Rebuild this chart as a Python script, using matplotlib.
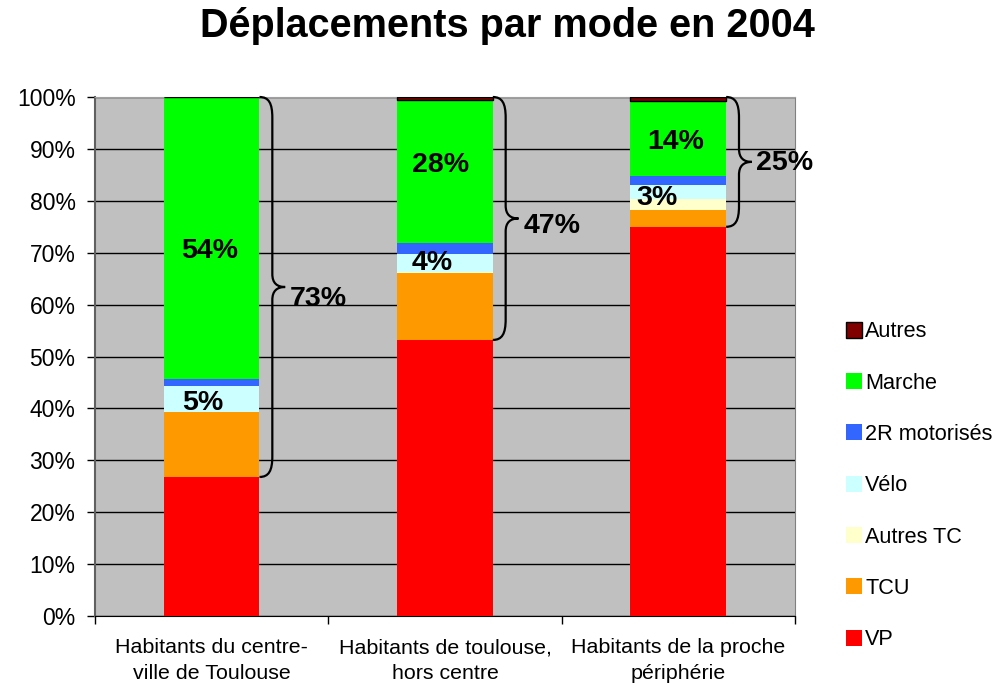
import numpy as np
import matplotlib
matplotlib.use('Agg')
import matplotlib.pyplot as plt
from matplotlib.path import Path
from matplotlib.patches import PathPatch

plt.rcParams['font.family'] = ['Liberation Sans', 'DejaVu Sans']

# Données (parts en %)
categories = ['Habitants du centre-\nville de Toulouse',
              'Habitants de toulouse,\nhors centre',
              'Habitants de la proche\npériphérie']
modes = ['VP', 'TCU', 'Autres TC', 'Vélo', '2R motorisés', 'Marche', 'Autres']
vp = [26.8, 53.2, 75.0]
tcu = [12.5, 12.8, 3.2]
autres_tc = [0.0, 0.2, 2.1]
velo = [5.0, 3.5, 2.7]
deux_roues = [1.4, 2.2, 1.8]
marche = [54.3, 27.6, 14.4]
autres = [0.0, 0.5, 0.8]
colors = ['#FF0000', '#FF9900', '#FFFFCC', '#CCFFFF', '#3366FF', '#00FF00', '#800000']

# Étiquettes sur les barres
bar_labels = ['54%', '5%', '28%', '4%', '14%', '3%']
bar_label_cat = [0, 0, 1, 1, 2, 2]
bar_label_pos = [(-0.01, 70.4), (-0.04, 41.0), (-0.02, 86.9), (-0.055, 68.0),
                 (-0.01, 91.3), (-0.09, 80.5)]
brace_labels = ['73%', '47%', '25%']

series = [vp, tcu, autres_tc, velo, deux_roues, marche, autres]

fig = plt.figure(figsize=(10.01, 6.93), dpi=100)
ax = fig.add_axes([0.0949, 0.111, 0.6993, 0.749])
ax.set_facecolor('#C0C0C0')

x = np.arange(len(categories)) + 0.5
width = 0.41
bottom = np.zeros(len(categories))
handles = []
for name, vals, col in zip(modes, series, colors):
    if name == 'Autres':
        h = ax.bar(x, vals, width, bottom=bottom, color=col, edgecolor='black',
                   linewidth=1, label=name, zorder=3)
    else:
        h = ax.bar(x, vals, width, bottom=bottom, color=col, linewidth=0,
                   label=name, zorder=3)
    handles.append(h)
    bottom += np.array(vals)

# Étiquettes des segments
for lab, ci, (dx, yy) in zip(bar_labels, bar_label_cat, bar_label_pos):
    ax.text(x[ci] + dx, yy, lab, ha='center', va='center', fontsize=20.5,
            fontweight='bold', zorder=5)

# Accolades : de la part VP jusqu'à 100 %
def brace(ax, x0, y0, y1):
    xv = x0 + 0.055
    xt = x0 + 0.11
    mid = (y0 + y1) / 2
    r = min(4.0, (y1 - y0) / 6)
    m = 2.5
    verts = [
        (x0, y1), (x0 + 0.04, y1), (xv, y1 - r * 0.3), (xv, y1 - r),
        (xv, mid + m),
        (xv, mid + m * 0.3), (xv + 0.02, mid), (xt, mid),
        (xv + 0.02, mid), (xv, mid - m * 0.3), (xv, mid - m),
        (xv, y0 + r),
        (xv, y0 + r * 0.3), (x0 + 0.04, y0), (x0, y0),
    ]
    codes = [Path.MOVETO, Path.CURVE4, Path.CURVE4, Path.CURVE4,
             Path.LINETO,
             Path.CURVE4, Path.CURVE4, Path.CURVE4,
             Path.CURVE4, Path.CURVE4, Path.CURVE4,
             Path.LINETO,
             Path.CURVE4, Path.CURVE4, Path.CURVE4]
    ax.add_patch(PathPatch(Path(verts, codes), fill=False, lw=1.6,
                           edgecolor='black', zorder=4, clip_on=False))
    return xt, mid

label_dy = [-2.4, -1.4, -0.2]
for i in range(len(categories)):
    xt, mid = brace(ax, x[i] + width / 2, vp[i], 100)
    ax.text(xt + 0.02, mid + label_dy[i], brace_labels[i], ha='left',
            va='center', fontsize=20.5, fontweight='bold', zorder=5,
            clip_on=False)

ax.set_xlim(0, 3)
ax.set_ylim(0, 100)
ax.set_yticks(np.arange(0, 101, 10))
ax.set_yticklabels([f'{v}%' for v in range(0, 101, 10)], fontsize=16.5)
ax.yaxis.grid(True, color='black', linewidth=1, zorder=1)
ax.set_axisbelow(True)
ax.tick_params(axis='y', direction='out', length=6, width=1, pad=8)

ax.set_xticks(x)
ax.set_xticklabels(categories, fontsize=15.4, linespacing=1.45)
ax.set_xticks([0, 1, 2, 3], minor=True)
ax.tick_params(axis='x', which='major', length=0, pad=16)
ax.tick_params(axis='x', which='minor', length=6, width=1, direction='out')

ax.spines['left'].set_color('#606060')
ax.spines['left'].set_linewidth(1.5)
ax.spines['bottom'].set_color('black')
ax.spines['top'].set_color('#A0A0A0')
ax.spines['right'].set_color('#808080')

fig.suptitle('Déplacements par mode en 2004', fontsize=28.5, fontweight='bold',
             x=0.507, y=0.99)

leg = fig.legend(handles[::-1], modes[::-1], loc='center left',
                 bbox_to_anchor=(0.836, 0.299), frameon=False,
                 fontsize=15.6, handlelength=0.75, handleheight=0.75,
                 handletextpad=0.15, labelspacing=1.4, borderaxespad=0)

fig.savefig('out.png', dpi=100)
